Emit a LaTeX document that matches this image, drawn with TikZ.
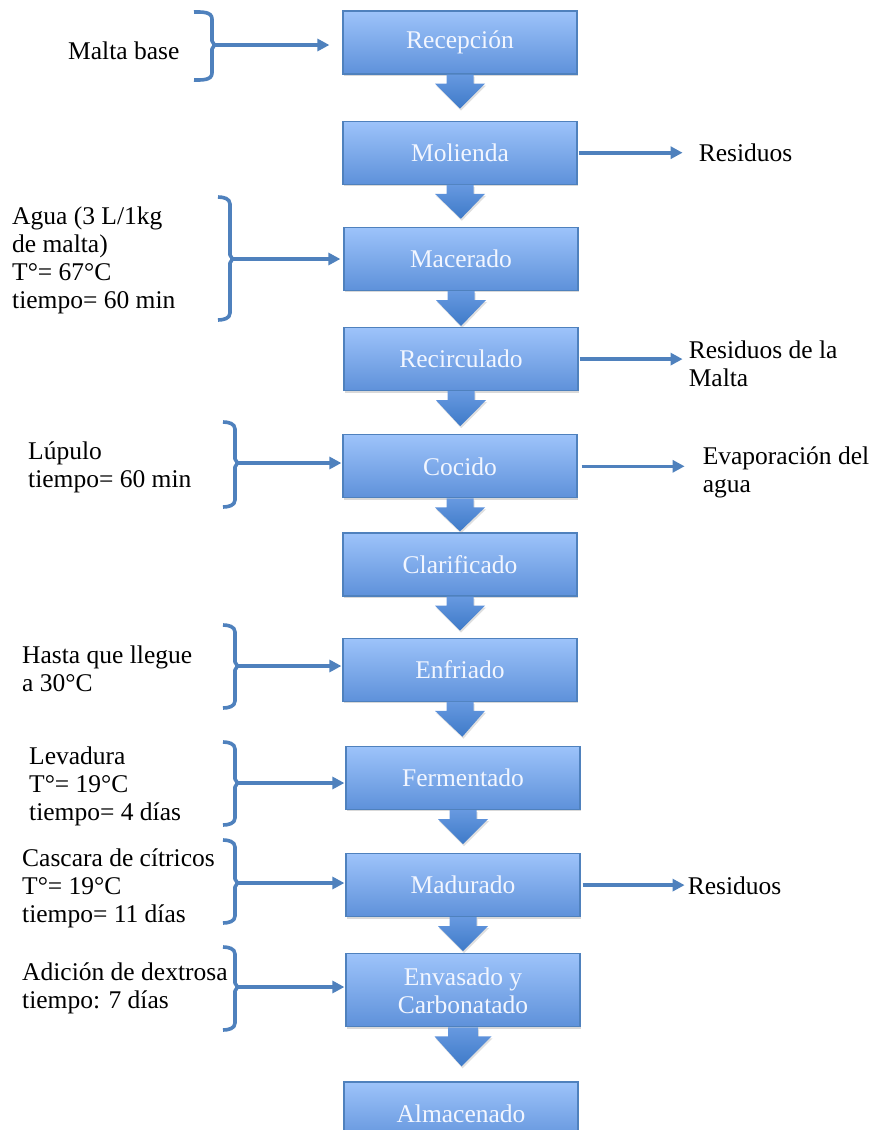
\documentclass[tikz,border=0pt]{standalone}
\usepackage{fontspec}
\setmainfont{Liberation Serif}
\usepackage{xcolor}
\usepackage{tikz}
\usetikzlibrary{arrows.meta,positioning,calc,shadows}
\definecolor{mblue}{RGB}{79,129,189}
\definecolor{btop}{RGB}{157,195,250}
\definecolor{bbot}{RGB}{94,145,218}
\definecolor{atop}{RGB}{103,153,224}
\definecolor{abot}{RGB}{62,122,200}
\definecolor{btext}{RGB}{242,246,255}

\newcommand{\flecha}[5]{%
  \shade[flecha] ($(#1.south)+(-#3,0)$) -- ++(0,9) -- ++(#3-#4,0)
    -- ($(#1.south)!#5pt!(#2.north)$) -- ($(#1.south)+(#4,9)$)
    -- ++(#3-#4,0) -- ++(0,-9) -- cycle;}
\newcommand{\llave}[6][12]{%
  \draw[llave] (#3-#1,#4) to[out=0,in=90] (#3,#4+7) -- (#3,#6-4) -- (#3+2.5,#6)
    -- (#3,#6+4) -- (#3,#5-7) to[out=-90,in=0] (#3-#1,#5);
  \coordinate (#2) at (#3+2.5,#6);}

\begin{document}
\begin{tikzpicture}[x=1pt, y=-1pt,
    caja/.style={rectangle, draw=mblue, line width=1.2pt, top color=btop, bottom color=bbot,
                 minimum width=234pt, minimum height=63pt, text=btext, align=center,
                 font=\fontsize{25.5}{28}\selectfont,
                 drop shadow={shadow xshift=1pt, shadow yshift=-2pt, opacity=0.3}},
    etiq/.style={font=\fontsize{25.5}{28}\selectfont, align=left, inner sep=0pt, anchor=west},
    con/.style={-{Triangle[width=12pt,length=12pt]}, line width=3.6pt, color=mblue},
    llave/.style={line width=3.6pt, color=mblue, line join=round},
    flecha/.style={top color=atop, bottom color=abot,
                   drop shadow={shadow xshift=1pt, shadow yshift=-2pt, opacity=0.25}}
]
\path[use as bounding box, clip] (0,0) rectangle (868,1130);

\node[caja] (rec) at (460,42.5) {Recepción};
\node[caja, below=46pt of rec] (mol) {Molienda};
\node[caja, below=42pt of mol, xshift=1pt] (mac) {Macerado};
\node[caja, below=36pt of mac] (recir) {Recirculado};
\node[caja, below=43pt of recir, xshift=-1pt] (coc) {Cocido};
\node[caja, below=34pt of coc] (cla) {Clarificado};
\node[caja, below=41pt of cla] (enf) {Enfriado};
\node[caja, below=44pt of enf, xshift=3pt] (fer) {Fermentado};
\node[caja, below=43pt of fer] (mad) {Madurado};
\node[caja, below=36pt of mad, minimum height=73pt] (env) {Envasado y\\Carbonatado};
\node[caja, below=54pt of env, xshift=-2pt] (alm) {Almacenado};

\flecha{rec}{mol}{13.5}{25}{34}
\flecha{mol}{mac}{13.5}{25}{34}
\flecha{mac}{recir}{13.5}{25}{35}
\flecha{recir}{coc}{13.5}{25}{35}
\flecha{coc}{cla}{13.5}{25}{33}
\flecha{cla}{enf}{13.5}{25}{34}
\flecha{enf}{fer}{13.5}{25}{35}
\flecha{fer}{mad}{13.5}{25}{34}
\flecha{mad}{env}{13.5}{25}{34}
\flecha{env}{alm}{15}{28.5}{39}

\llave[18]{bmal}{212}{12}{80}{45}
\llave{bagu}{230}{197}{320}{259}
\llave{blup}{235}{422}{507}{463}
\llave{bhas}{235}{625}{708}{666}
\llave{blev}{235}{742}{825}{783}
\llave{bcas}{235}{840}{923}{883}
\llave{bdex}{235}{947}{1030}{987}

\node[etiq] (mal) at (68,51) {Malta base};
\node[etiq] (agu) at (12,260) {Agua (3 L/1kg\\de malta)\\T°= 67°C\\tiempo= 60 min};
\node[etiq] (lup) at (28,467) {Lúpulo\\tiempo= 60 min};
\node[etiq] (has) at (22,669) {Hasta que llegue\\a 30°C};
\node[etiq] (lev) at (29,786) {Levadura\\T°= 19°C\\tiempo= 4 días};
\node[etiq] (cas) at (22,888) {Cascara de cítricos\\T°= 19°C\\tiempo= 11 días};
\node[etiq] (dex) at (22,988) {Adición de dextrosa\\tiempo: 7 días};

\draw[con, shorten >=13pt] (bmal) -- (bmal -| rec.west);
\draw[con, shorten >=3pt] (bagu) -- (bagu -| mac.west);
\draw[con, shorten >=1pt] (blup) -- (blup -| coc.west);
\draw[con, shorten >=1pt] (bhas) -- (bhas -| enf.west);
\draw[con, shorten >=1pt] (blev) -- (blev -| fer.west);
\draw[con, shorten >=1pt] (bcas) -- (bcas -| mad.west);
\draw[con, shorten >=1pt] (bdex) -- (bdex -| env.west);

\node[etiq, right=121pt of mol] (res1) {Residuos};
\node[etiq, right=110pt of recir, yshift=-4.5pt] (res2) {Residuos de la\\Malta};
\node[etiq, right=125pt of coc, yshift=-6.5pt] (eva) {Evaporación del\\agua};
\node[etiq, right=107pt of mad, yshift=-1pt] (res3) {Residuos};

\draw[con, shorten <=1pt, shorten >=16pt] (mol.east) -- (mol.east -| res1.west);
\draw[con, shorten <=1pt, shorten >=6pt] (recir.east) -- (recir.east -| res2.west);
\draw[con, shorten <=4pt, shorten >=18pt] (coc.east) -- (coc.east -| eva.west);
\draw[con, shorten <=2pt, shorten >=3pt] (mad.east) -- (mad.east -| res3.west);
\end{tikzpicture}
\end{document}
